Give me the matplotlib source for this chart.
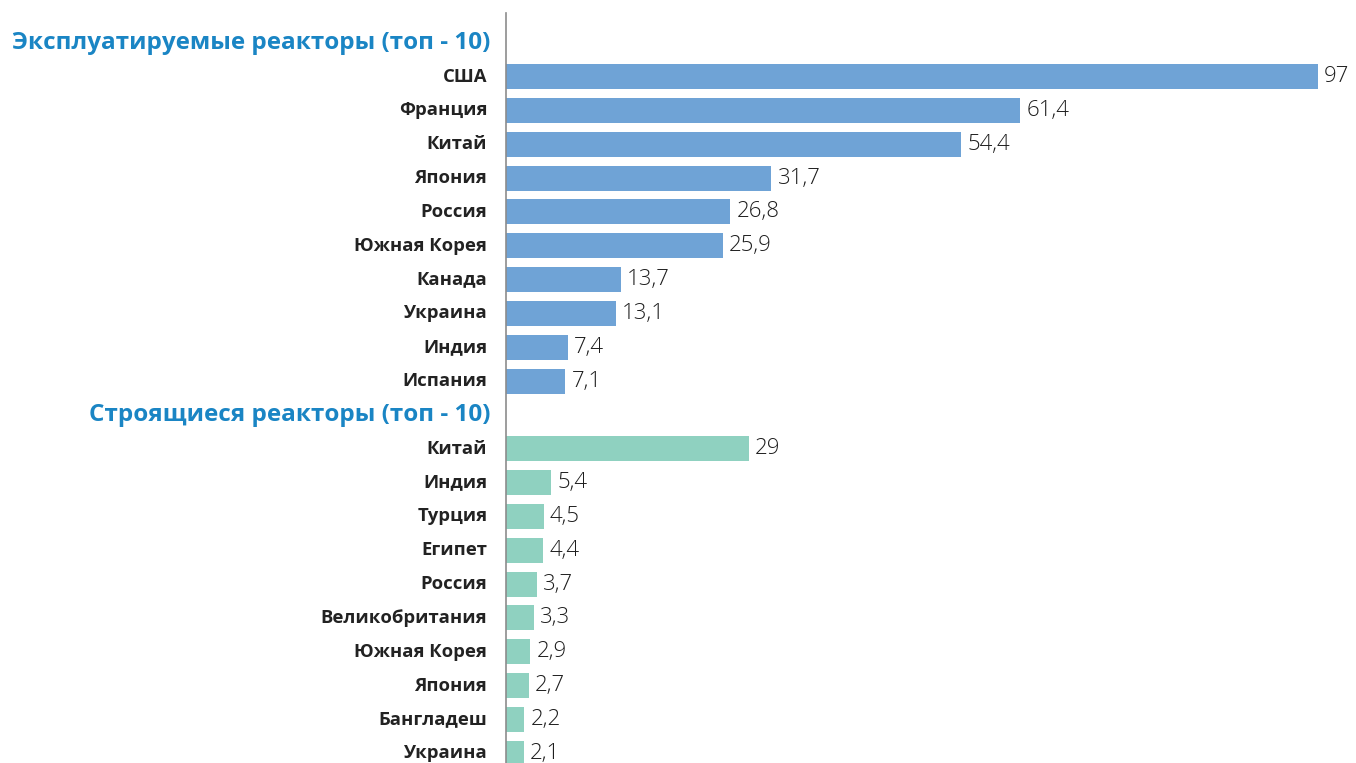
import numpy as np
import matplotlib.pyplot as plt

plt.rcParams['font.family'] = ['Open Sans', 'DejaVu Sans']

# данные: число реакторов по странам
header_1 = 'Эксплуатируемые реакторы (топ - 10)'
countries_1 = ['США', 'Франция', 'Китай', 'Япония', 'Россия', 'Южная Корея',
               'Канада', 'Украина', 'Индия', 'Испания']
values_1 = [97, 61.4, 54.4, 31.7, 26.8, 25.9, 13.7, 13.1, 7.4, 7.1]

header_2 = 'Строящиеся реакторы (топ - 10)'
countries_2 = ['Китай', 'Индия', 'Турция', 'Египет', 'Россия', 'Великобритания',
               'Южная Корея', 'Япония', 'Бангладеш', 'Украина']
values_2 = [29, 5.4, 4.5, 4.4, 3.7, 3.3, 2.9, 2.7, 2.2, 2.1]

blue = '#6fa3d6'
green = '#8fd1c0'
head_col = '#1a85c4'

fig = plt.figure(figsize=(13.56, 7.63), dpi=100)
ax = fig.add_axes([506 / 1356, 0, 1 - 506 / 1356, 1 - 13 / 763])

# строки: заголовок, 10 стран, заголовок, 10 стран
y1 = np.arange(1, 11)
y2 = np.arange(12, 22)

ax.barh(y1, values_1, height=0.74, color=blue)
ax.barh(y2, values_2, height=0.74, color=green)

def fmt(v):
    s = f'{v:g}'
    return s.replace('.', ',')

for y, v in zip(np.concatenate([y1, y2]), values_1 + values_2):
    ax.annotate(fmt(v), (v, y), xytext=(4.5, 0), textcoords='offset points',
                va='center', ha='left', fontsize=16, fontweight='light',
                color='#1e1e1e')

for y, name in zip(np.concatenate([y1, y2]), countries_1 + countries_2):
    ax.annotate(name, (0, y), xycoords=('axes fraction', 'data'),
                xytext=(-13.5, 0), textcoords='offset points',
                ha='right', va='center', fontsize=13.3, fontweight='bold',
                color='#222222')

for y, h in [(0, header_1), (11, header_2)]:
    ax.annotate(h, (0, y), xycoords=('axes fraction', 'data'),
                xytext=(-11.5, 0), textcoords='offset points',
                ha='right', va='center', fontsize=17.5, fontweight='bold',
                color=head_col)

ax.set_xlim(0, 850 / 8.37)
ax.set_ylim(21.29, -0.878)
for s in ['top', 'right', 'bottom']:
    ax.spines[s].set_visible(False)
ax.spines['left'].set_color('#8c8c8c')
ax.spines['left'].set_linewidth(1.2)
ax.set_xticks([])
ax.set_yticks([])

fig.savefig('out.png', dpi=100)
